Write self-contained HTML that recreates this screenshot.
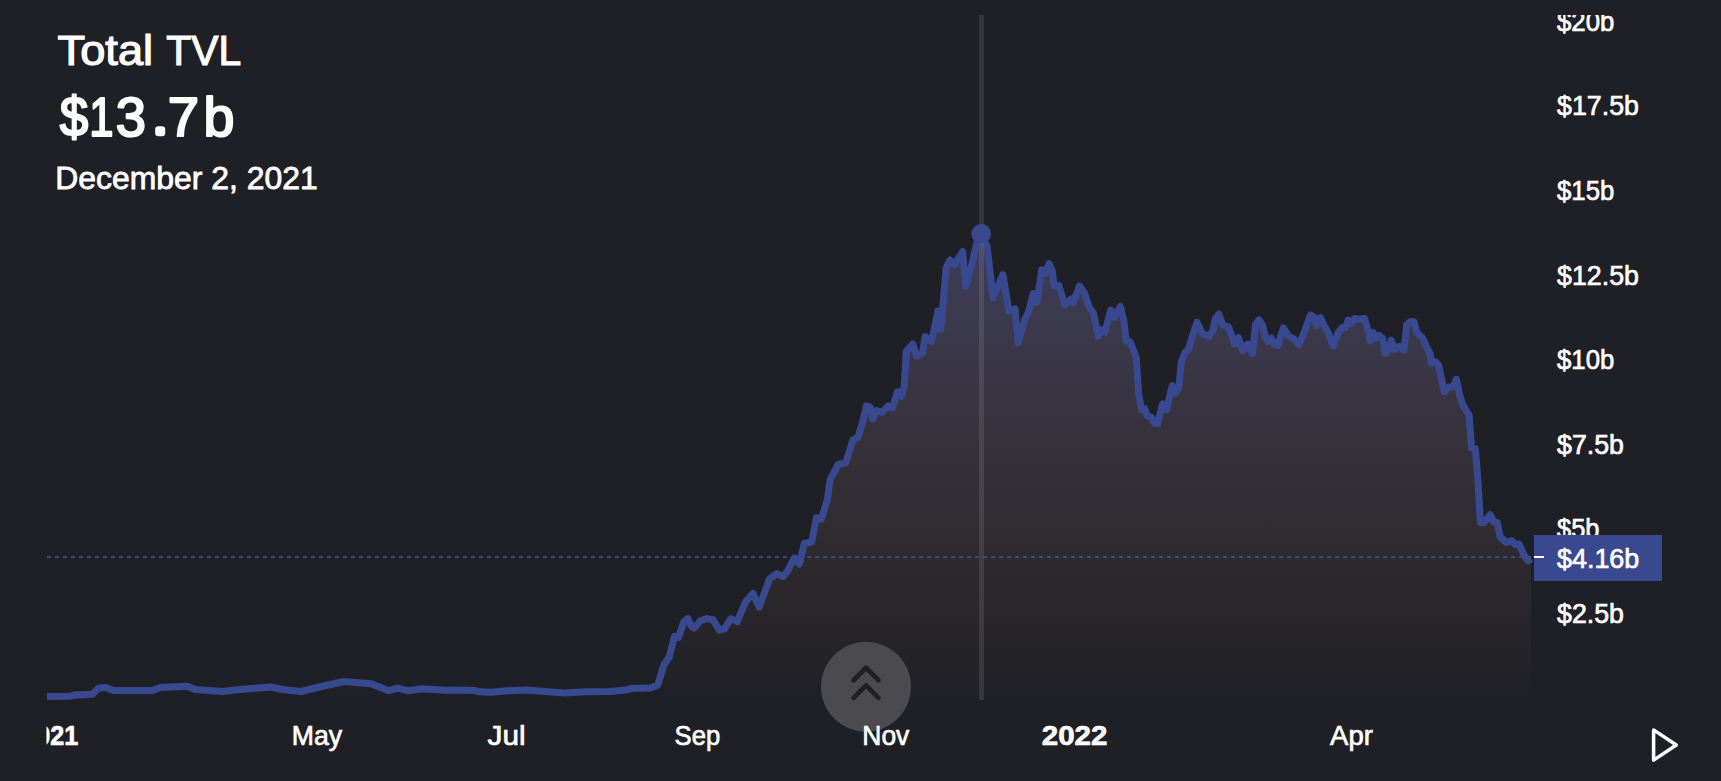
<!DOCTYPE html>
<html>
<head>
<meta charset="utf-8">
<title>Total TVL</title>
<style>
  html, body { margin: 0; padding: 0; background: #1f2026; }
  body { width: 1721px; height: 781px; overflow: hidden; position: relative;
         font-family: "Liberation Sans", sans-serif; }
  svg { position: absolute; left: 0; top: 0; display: block; }
  text { font-family: "Liberation Sans", sans-serif; fill: #ffffff; }
</style>
</head>
<body>
<svg width="1721" height="781" viewBox="0 0 1721 781">
  <defs>
    <linearGradient id="fillgrad" gradientUnits="userSpaceOnUse" x1="0" y1="15" x2="0" y2="700">
      <stop offset="0" stop-color="#394990" stop-opacity="1"/>
      <stop offset="1" stop-color="#705240" stop-opacity="0"/>
    </linearGradient>
    <clipPath id="paneclip"><rect x="46.5" y="15" width="1490" height="685"/></clipPath>
    <clipPath id="axisclip"><rect x="1534" y="15" width="187" height="685"/></clipPath>
    <clipPath id="timeclip"><rect x="46.5" y="700" width="1490" height="81"/></clipPath>
  </defs>

  <!-- area fill + line -->
  <g clip-path="url(#paneclip)">
    <path d="M47,696.5 L70,696.2 L75,695 L92.5,694.2 L98.7,688 L106.2,687.5 L113.7,690.5 L152.5,690.5 L160,687.5 L187.5,686.2 L195,689.5 L222.5,691.5 L240,689.5 L271,687 L282.5,689.5 L301,691.5 L315,688 L343.7,681.5 L371,683.7 L388.7,690.7 L397.5,688.2 L407.5,690.7 L422.5,688.7 L445,690.2 L460,690.1 L474.6,690.5 L479.9,691.8 L491.4,692.2 L503.9,691 L526.9,690.1 L547.9,691.8 L564.6,693 L585.5,691.8 L610.6,691.4 L625.3,690.1 L631.5,688.5 L650.4,688 L657.7,685.1 L664,664.6 L669.2,657.3 L674.4,636.4 L678.6,637.4 L683.8,621.7 L688,618.6 L691.2,625.9 L694.3,628 L700.6,620.7 L706.9,618.6 L713.1,619.6 L719.4,630.1 L724.6,628.6 L730.9,618.6 L737.2,621.7 L745.6,601.8 L752.9,593.5 L759.2,607.1 L769.6,578.8 L776.9,573.6 L783.2,576.7 L787.3,571.3 L794.6,557.9 L799.5,564 L804.3,543.3 L811.6,542.1 L816.5,517.7 L821.4,519 L827.4,499.5 L829.9,480 L838.4,464.2 L845.7,463 L853,439.9 L857.9,437.4 L862.7,421.6 L866.4,405.8 L870,407 L872.9,419.2 L876.1,410.7 L882.2,412.4 L888.3,405.8 L892.4,408 L897.5,391.8 L901.4,396.3 L904.3,385.3 L906.3,351.3 L912.8,344 L916.5,356.1 L922.6,353.2 L925,336.7 L931.6,341.5 L937.9,311.1 L940.8,329.4 L946.2,267.3 L950.1,260 L954.2,264.9 L962.7,251.5 L965.6,286 L971.2,267.3 L978.5,235.7 L981,234 L987.1,246.6 L993.1,297.7 L1002.9,274.6 L1009,311.1 L1015,308.7 L1018.2,342.7 L1024.8,319.6 L1028.4,312.3 L1033.3,293.3 L1036.9,302.6 L1041.8,269.7 L1045.5,273.4 L1049.1,263.7 L1052.3,271 L1054,285.6 L1058.8,285.6 L1064.9,305 L1071,298.9 L1073.4,302.6 L1079.5,286 L1084.4,292.9 L1089.5,308 L1093.3,312.5 L1098.2,336 L1100.9,329.6 L1105.1,332 L1110.7,310.1 L1114.3,317.4 L1120.4,306.5 L1124.1,322.3 L1126,340.6 L1130.1,341.8 L1136.2,357.6 L1138.7,394.1 L1141.6,409.9 L1144.7,408.7 L1147.2,416 L1151.3,417.2 L1154.5,423.3 L1157.6,423.8 L1162.5,403.8 L1166.6,409.9 L1172.2,385.6 L1175.2,392.9 L1178.8,388 L1181.2,362.5 L1184.9,352.7 L1188.5,349.1 L1193.4,333.3 L1197.1,322.3 L1202.4,333.7 L1209.2,336.2 L1212.9,330.8 L1215.3,318.7 L1219,314.3 L1222.6,324.7 L1228.7,327.2 L1234.8,344.2 L1238.4,337.6 L1242.8,350.8 L1247.7,344.2 L1252.5,353.9 L1255.5,324.7 L1259.1,319.9 L1262.3,324.7 L1265.7,338.1 L1268.1,341.8 L1271.3,338.1 L1274.4,344.2 L1277.8,345.4 L1283.4,327.9 L1288.3,335.7 L1294.4,339.3 L1298.8,344.9 L1304.5,331.5 L1310.5,315 L1314.6,317.7 L1316.5,325.7 L1320.7,317.7 L1324.3,326.2 L1328,332.3 L1333.3,346.2 L1338.4,332.3 L1342.6,327.4 L1345.7,327.4 L1348.2,320.1 L1351.6,323.3 L1354.7,318.4 L1359.6,319.4 L1364.5,318.4 L1368.1,331.1 L1370.1,340.8 L1373,332.3 L1375.9,338.4 L1379.1,335.5 L1382.7,338.4 L1385.2,353.5 L1388.1,350.6 L1391.2,340.3 L1394.4,349.3 L1399.3,346.2 L1404.1,350.1 L1406.6,325 L1410.7,321.4 L1413.9,321.8 L1416.8,332.3 L1422.9,338.4 L1426.5,346.9 L1430.2,354.2 L1431.4,363.2 L1435,361.5 L1438.7,365.2 L1441.1,377.3 L1444.3,391.9 L1448.9,387.1 L1452.8,387.1 L1456.4,379.3 L1459.4,394.4 L1463,405.3 L1469.1,415 L1471.5,447.9 L1475.2,448.4 L1478,481.1 L1480.4,522.5 L1484.1,522.5 L1490.1,514.7 L1493.8,522 L1497.4,522.5 L1499.9,536.6 L1506,542.4 L1512,540.7 L1515.2,544.4 L1518.9,543.9 L1524.2,555.3 L1528,560.7 L1531,558.6 L1531,700 L47,700 Z" fill="url(#fillgrad)"/>
    <!-- last-value dashed price line -->
    <line x1="47" y1="557" x2="1534" y2="557" stroke="#394990" stroke-width="2" stroke-dasharray="4 4"/>
    <path d="M47,696.5 L70,696.2 L75,695 L92.5,694.2 L98.7,688 L106.2,687.5 L113.7,690.5 L152.5,690.5 L160,687.5 L187.5,686.2 L195,689.5 L222.5,691.5 L240,689.5 L271,687 L282.5,689.5 L301,691.5 L315,688 L343.7,681.5 L371,683.7 L388.7,690.7 L397.5,688.2 L407.5,690.7 L422.5,688.7 L445,690.2 L460,690.1 L474.6,690.5 L479.9,691.8 L491.4,692.2 L503.9,691 L526.9,690.1 L547.9,691.8 L564.6,693 L585.5,691.8 L610.6,691.4 L625.3,690.1 L631.5,688.5 L650.4,688 L657.7,685.1 L664,664.6 L669.2,657.3 L674.4,636.4 L678.6,637.4 L683.8,621.7 L688,618.6 L691.2,625.9 L694.3,628 L700.6,620.7 L706.9,618.6 L713.1,619.6 L719.4,630.1 L724.6,628.6 L730.9,618.6 L737.2,621.7 L745.6,601.8 L752.9,593.5 L759.2,607.1 L769.6,578.8 L776.9,573.6 L783.2,576.7 L787.3,571.3 L794.6,557.9 L799.5,564 L804.3,543.3 L811.6,542.1 L816.5,517.7 L821.4,519 L827.4,499.5 L829.9,480 L838.4,464.2 L845.7,463 L853,439.9 L857.9,437.4 L862.7,421.6 L866.4,405.8 L870,407 L872.9,419.2 L876.1,410.7 L882.2,412.4 L888.3,405.8 L892.4,408 L897.5,391.8 L901.4,396.3 L904.3,385.3 L906.3,351.3 L912.8,344 L916.5,356.1 L922.6,353.2 L925,336.7 L931.6,341.5 L937.9,311.1 L940.8,329.4 L946.2,267.3 L950.1,260 L954.2,264.9 L962.7,251.5 L965.6,286 L971.2,267.3 L978.5,235.7 L981,234 L987.1,246.6 L993.1,297.7 L1002.9,274.6 L1009,311.1 L1015,308.7 L1018.2,342.7 L1024.8,319.6 L1028.4,312.3 L1033.3,293.3 L1036.9,302.6 L1041.8,269.7 L1045.5,273.4 L1049.1,263.7 L1052.3,271 L1054,285.6 L1058.8,285.6 L1064.9,305 L1071,298.9 L1073.4,302.6 L1079.5,286 L1084.4,292.9 L1089.5,308 L1093.3,312.5 L1098.2,336 L1100.9,329.6 L1105.1,332 L1110.7,310.1 L1114.3,317.4 L1120.4,306.5 L1124.1,322.3 L1126,340.6 L1130.1,341.8 L1136.2,357.6 L1138.7,394.1 L1141.6,409.9 L1144.7,408.7 L1147.2,416 L1151.3,417.2 L1154.5,423.3 L1157.6,423.8 L1162.5,403.8 L1166.6,409.9 L1172.2,385.6 L1175.2,392.9 L1178.8,388 L1181.2,362.5 L1184.9,352.7 L1188.5,349.1 L1193.4,333.3 L1197.1,322.3 L1202.4,333.7 L1209.2,336.2 L1212.9,330.8 L1215.3,318.7 L1219,314.3 L1222.6,324.7 L1228.7,327.2 L1234.8,344.2 L1238.4,337.6 L1242.8,350.8 L1247.7,344.2 L1252.5,353.9 L1255.5,324.7 L1259.1,319.9 L1262.3,324.7 L1265.7,338.1 L1268.1,341.8 L1271.3,338.1 L1274.4,344.2 L1277.8,345.4 L1283.4,327.9 L1288.3,335.7 L1294.4,339.3 L1298.8,344.9 L1304.5,331.5 L1310.5,315 L1314.6,317.7 L1316.5,325.7 L1320.7,317.7 L1324.3,326.2 L1328,332.3 L1333.3,346.2 L1338.4,332.3 L1342.6,327.4 L1345.7,327.4 L1348.2,320.1 L1351.6,323.3 L1354.7,318.4 L1359.6,319.4 L1364.5,318.4 L1368.1,331.1 L1370.1,340.8 L1373,332.3 L1375.9,338.4 L1379.1,335.5 L1382.7,338.4 L1385.2,353.5 L1388.1,350.6 L1391.2,340.3 L1394.4,349.3 L1399.3,346.2 L1404.1,350.1 L1406.6,325 L1410.7,321.4 L1413.9,321.8 L1416.8,332.3 L1422.9,338.4 L1426.5,346.9 L1430.2,354.2 L1431.4,363.2 L1435,361.5 L1438.7,365.2 L1441.1,377.3 L1444.3,391.9 L1448.9,387.1 L1452.8,387.1 L1456.4,379.3 L1459.4,394.4 L1463,405.3 L1469.1,415 L1471.5,447.9 L1475.2,448.4 L1478,481.1 L1480.4,522.5 L1484.1,522.5 L1490.1,514.7 L1493.8,522 L1497.4,522.5 L1499.9,536.6 L1506,542.4 L1512,540.7 L1515.2,544.4 L1518.9,543.9 L1524.2,555.3 L1528,560.7 L1531,558.6" fill="none" stroke="#394990" stroke-width="7" stroke-linejoin="round" stroke-linecap="butt"/>
    <!-- crosshair vertical line -->
    <rect x="979" y="15" width="5" height="685" fill="#ffffff" fill-opacity="0.1"/>
    <!-- crosshair marker -->
    <circle cx="981.2" cy="233.8" r="9.8" fill="#394990"/>
  </g>

  <!-- y axis labels -->
  <g clip-path="url(#axisclip)" font-size="28" stroke="#ffffff" stroke-width="0.7">
    <text x="1557" y="30.8" textLength="57.3" lengthAdjust="spacingAndGlyphs">$20b</text>
    <text x="1557" y="115.4" textLength="82" lengthAdjust="spacingAndGlyphs">$17.5b</text>
    <text x="1557" y="200" textLength="57.3" lengthAdjust="spacingAndGlyphs">$15b</text>
    <text x="1557" y="284.5" textLength="82" lengthAdjust="spacingAndGlyphs">$12.5b</text>
    <text x="1557" y="369" textLength="57.3" lengthAdjust="spacingAndGlyphs">$10b</text>
    <text x="1557" y="453.6" textLength="67" lengthAdjust="spacingAndGlyphs">$7.5b</text>
    <text x="1557" y="538" textLength="42.5" lengthAdjust="spacingAndGlyphs">$5b</text>
    <text x="1557" y="622.7" textLength="67" lengthAdjust="spacingAndGlyphs">$2.5b</text>
    <!-- last value label -->
    <rect x="1534" y="535" width="128" height="46" fill="#394990" stroke="none"/>
    <rect x="1534" y="556" width="10" height="2" fill="#ffffff" stroke="none"/>
    <text x="1557" y="567.5" textLength="82.3" lengthAdjust="spacingAndGlyphs">$4.16b</text>
  </g>

  <!-- scroll-to-top style round button -->
  <circle cx="866" cy="686.8" r="45" fill="#4a4a4f"/>
  <g fill="none" stroke="#1f2024" stroke-width="4.7" stroke-linecap="round" stroke-linejoin="round">
    <polyline points="853.5,680.25 866,667.75 878.5,680.25"/>
    <polyline points="853.5,697.85 866,685.35 878.5,697.85"/>
  </g>

  <!-- time axis labels -->
  <g clip-path="url(#timeclip)" font-size="28" stroke="#ffffff" stroke-width="0.7">
    <g font-weight="bold" stroke="#ffffff" stroke-width="0.7" text-anchor="middle"><text x="43.3" y="745" textLength="14" lengthAdjust="spacingAndGlyphs">0</text><text x="57.2" y="745" textLength="14" lengthAdjust="spacingAndGlyphs">2</text><text x="71.2" y="745" textLength="14" lengthAdjust="spacingAndGlyphs">1</text></g>
    <text x="291.8" y="745" textLength="50.4" lengthAdjust="spacingAndGlyphs">May</text>
    <text x="487.6" y="745" textLength="38" lengthAdjust="spacingAndGlyphs">Jul</text>
    <text x="674.6" y="745" textLength="45.6" lengthAdjust="spacingAndGlyphs">Sep</text>
    <text x="862.3" y="745" textLength="47" lengthAdjust="spacingAndGlyphs">Nov</text>
    <text x="1041.8" y="745" font-weight="bold" stroke="#ffffff" stroke-width="0.7" textLength="65.6" lengthAdjust="spacingAndGlyphs">2022</text>
    <text x="1330.1" y="745" textLength="42.7" lengthAdjust="spacingAndGlyphs">Apr</text>
  </g>

  <!-- play icon -->
  <polygon points="1653.6,729.9 1676.3,745 1653.6,760.1" fill="none" stroke="#ffffff" stroke-width="3.5" stroke-linejoin="round" stroke-linecap="round"/>

  <!-- header -->
  <g font-size="42.4" stroke="#ffffff" stroke-width="1.2"><text x="57.6" y="64.5" textLength="95.5" lengthAdjust="spacingAndGlyphs">Total</text><text x="166.3" y="64.5" textLength="74.8" lengthAdjust="spacingAndGlyphs">TVL</text></g>
  <g font-size="54.6" stroke="#ffffff" stroke-width="2.1" stroke-linejoin="round"><text transform="translate(59.7,135.6) scale(0.938,1)">$</text><text transform="translate(89.2,135.6) scale(0.800,1)">1</text><text transform="translate(115.7,135.6) scale(0.996,1)">3</text><text transform="translate(167.8,135.6) scale(1.033,1)">7</text><text transform="translate(203.6,135.6) scale(1.019,1)">b</text><rect x="155.2" y="126.2" width="10" height="10" rx="3.2" stroke="none" fill="#ffffff"/></g>
  <text x="55.2" y="188.7" font-size="31.6" textLength="262.5" lengthAdjust="spacingAndGlyphs" stroke="#ffffff" stroke-width="0.8">December 2, 2021</text>
</svg>
</body>
</html>
